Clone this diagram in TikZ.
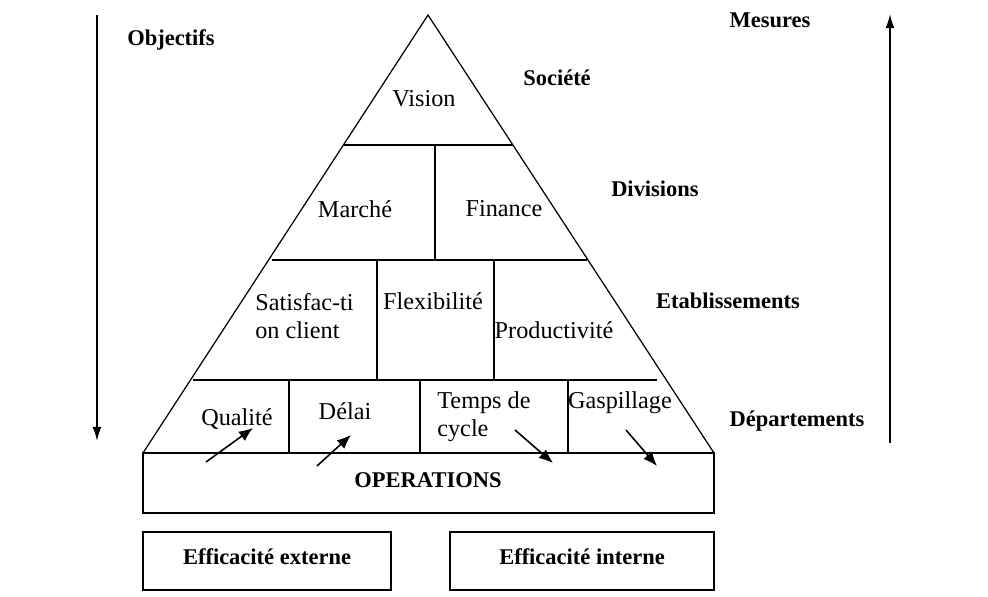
\documentclass[tikz,border=0pt]{standalone}
\usepackage{fontspec}
\setmainfont{Liberation Serif}
\usetikzlibrary{arrows.meta}
\begin{document}
\begin{tikzpicture}[x=0.02cm,y=-0.02cm,
  ln/.style={line width=0.7pt,black},
  txt/.style={inner sep=0pt,font=\fontsize{13.8}{16}\selectfont},
  btxt/.style={inner sep=0pt,font=\fontsize{12.8}{16}\selectfont\bfseries},
  arr/.style={line width=0.9pt,-{Latex[length=8pt,width=6.5pt]}},
  bigarr/.style={line width=0.8pt,-{Latex[length=8pt,width=5pt]}}]
\useasboundingbox (0,0) rectangle (988,597);
% pyramid outline
\coordinate (apex) at (428,15);
\coordinate (bl) at (143,453);
\coordinate (br) at (714,453);
\draw[ln] (bl) -- (apex) -- (br);
% level lines
\coordinate (l1a) at (343,145); \coordinate (l1b) at (513,145);
\coordinate (l2a) at (272,260); \coordinate (l2b) at (587,260);
\coordinate (l3a) at (193,380); \coordinate (l3b) at (657,380);
\draw[ln] (l1a) -- (l1b);
\draw[ln] (l2a) -- (l2b);
\draw[ln] (l3a) -- (l3b);
% verticals
\coordinate (v1a) at (435,145); \coordinate (v1b) at (435,260);
\draw[ln] (v1a) -- (v1b);
\coordinate (v2a) at (377,260); \coordinate (v2b) at (377,380);
\coordinate (v3a) at (494,260); \coordinate (v3b) at (494,380);
\draw[ln] (v2a) -- (v2b);
\draw[ln] (v3a) -- (v3b);
\coordinate (v4a) at (289,380); \coordinate (v4b) at (289,453);
\coordinate (v5a) at (420,380); \coordinate (v5b) at (420,453);
\coordinate (v6a) at (568,380); \coordinate (v6b) at (568,453);
\draw[ln] (v4a) -- (v4b);
\draw[ln] (v5a) -- (v5b);
\draw[ln] (v6a) -- (v6b);
% boxes
\draw[ln] (143,453) rectangle (714,513);
\node[btxt] (ops) at (428,480) {OPERATIONS};
\draw[ln] (143,532) rectangle (391,590);
\node[btxt] (ext) at (267,557) {Efficacité externe};
\draw[ln] (450,532) rectangle (714,590);
\node[btxt] (int) at (582,557) {Efficacité interne};
% pyramid texts
\node[txt] (vision) at (424,99) {Vision};
\node[txt] (marche) at (355,209) {Marché};
\node[txt] (finance) at (504,209) {Finance};
\node[txt,anchor=west,align=left] (satis) at (255,316) {Satisfac-ti\\on client};
\node[txt] (flex) at (433,301) {Flexibilité};
\node[txt] (prod) at (554,330) {Productivité};
\node[txt] (qual) at (237,419) {Qualité};
\node[txt] (delai) at (345,411) {Délai};
\node[txt,anchor=west,align=left] (temps) at (437,417) {Temps de\\cycle};
\node[txt] (gasp) at (620,403) {Gaspillage};
% side labels
\node[btxt] (obj) at (171,40) {Objectifs};
\node[btxt] (mes) at (770,20) {Mesures};
\node[btxt] (soc) at (557,78) {Société};
\node[btxt] (div) at (655,189) {Divisions};
\node[btxt] (etab) at (728,301) {Etablissements};
\node[btxt] (dep) at (797,421) {Départements};
% big arrows
\coordinate (la) at (97,15); \coordinate (lb) at (97,441);
\draw[bigarr] (la) -- (lb);
\coordinate (ra) at (890,443); \coordinate (rb) at (890,14);
\draw[bigarr] (ra) -- (rb);
% small arrows
\coordinate (a1s) at (206,462); \coordinate (a1e) at (253,428);
\coordinate (a2s) at (317,466); \coordinate (a2e) at (351,435);
\coordinate (a3s) at (515,430); \coordinate (a3e) at (553,463);
\coordinate (a4s) at (626,430); \coordinate (a4e) at (657,466);
\draw[arr] (a1s) -- (a1e);
\draw[arr] (a2s) -- (a2e);
\draw[arr] (a3s) -- (a3e);
\draw[arr] (a4s) -- (a4e);
\end{tikzpicture}
\end{document}
